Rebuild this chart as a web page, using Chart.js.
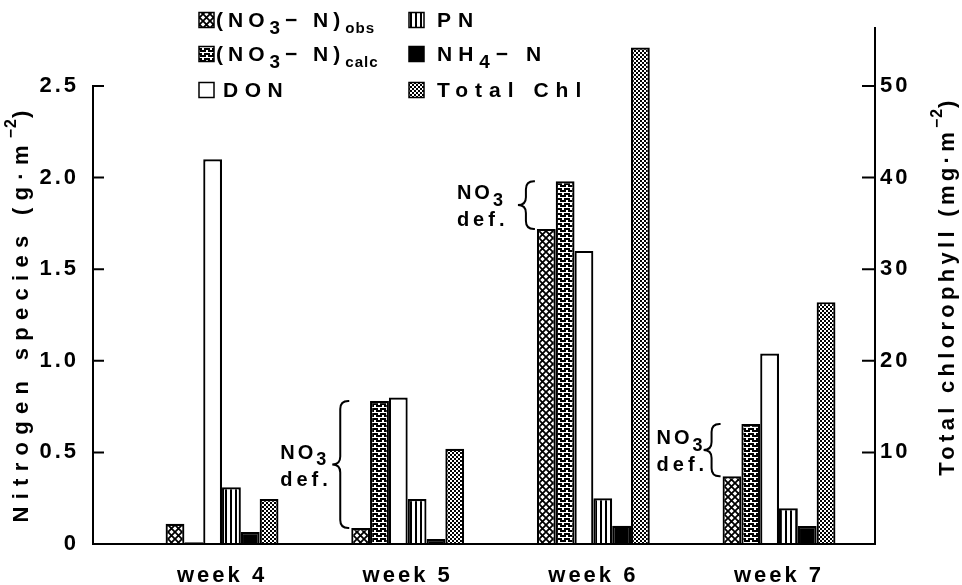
<!DOCTYPE html>
<html><head><meta charset="utf-8">
<script src="https://cdn.jsdelivr.net/npm/chart.js@4.4.0/dist/chart.umd.min.js"></script>
<style>html,body{margin:0;padding:0;background:#fff}#wrap{width:962px;height:585px}</style>
</head><body><div id="wrap"><canvas id="c" width="962" height="585"></canvas></div>
<script>
// ---------- data ----------
const weeks = ['week 4', 'week 5', 'week 6', 'week 7'];
const weekPos = [4, 5, 6, 7];
const no3Obs  = [0.11, 0.087, 1.72, 0.37];
const no3Calc = [0.01, 0.78, 1.98, 0.655];
const don     = [2.10, 0.80, 1.60, 1.04];
const pn      = [0.31, 0.245, 0.25, 0.195];
const nh4     = [0.065, 0.027, 0.10, 0.098];
const totalChl = [4.9, 10.4, 54.2, 26.4];
const leftTicks = [0, 0.5, 1, 1.5, 2, 2.5];
const leftTickLabels = ['0', '0.5', '1.0', '1.5', '2.0', '2.5'];
const rightTicks = [10, 20, 30, 40, 50];
const rightTickLabels = ['10', '20', '30', '40', '50'];
const deficitWeekIdx = [1, 2, 3];
// text segments: [text, mode] mode 0 normal, 1 big subscript, 2 small subscript, 3 superscript
const legendObs  = [['(NO', 0], ['3', 1], ['− N)', 0], ['obs', 2]];
const legendCalc = [['(NO', 0], ['3', 1], ['− N)', 0], ['calc', 2]];
const legendDon  = [['DON', 0]];
const legendPn   = [['PN', 0]];
const legendNh4  = [['NH', 0], ['4', 1], ['− N', 0]];
const legendChl  = [['Total Chl', 0]];
const leftTitle  = [['Nitrogen species (g·m', 0], ['−2', 3], [')', 0]];
const rightTitle = [['Total chlorophyll (mg·m', 0], ['−2', 3], [')', 0]];

// ---------- patterns ----------
const FONT = '"Liberation Sans", Arial, Helvetica, sans-serif';
function tile(w, h, draw) {
  const c = document.createElement('canvas'); c.width = w; c.height = h;
  const g = c.getContext('2d');
  g.fillStyle = '#fff'; g.fillRect(0, 0, w, h);
  g.fillStyle = '#000'; g.strokeStyle = '#000';
  draw(g, w, h); return c;
}
const canvas = document.getElementById('c');
const ctx = canvas.getContext('2d');
const pat = {
  obs: ctx.createPattern(tile(7, 7, (g, w, h) => {
    g.lineWidth = 1.8;
    g.beginPath(); g.moveTo(-1, -1); g.lineTo(w + 1, h + 1); g.moveTo(-1, h + 1); g.lineTo(w + 1, -1); g.stroke();
  }), 'repeat'),
  calc: ctx.createPattern(tile(8, 5, (g) => {
    g.fillRect(0, 0, 6, 2); g.fillRect(4, 3, 4, 2); g.fillRect(0, 3, 2, 2);
  }), 'repeat'),
  don: '#ffffff',
  pn: ctx.createPattern(tile(5, 1, (g) => { g.fillRect(0, 0, 2, 1); }), 'repeat'),
  nh4: '#000000',
  chl: ctx.createPattern(tile(4, 4, (g) => { g.fillRect(0, 0, 2, 2); g.fillRect(2, 2, 2, 2); }), 'repeat')
};

function pts(arr) { return weekPos.map((x, i) => ({ x: x, y: arr[i] })); }

// ---------- helpers ----------
function drawSegs(c, x, y, segs, size, sp, measureOnly) {
  let w = 0;
  for (const [t, m] of segs) {
    let fs = size, dy = 0, s = sp;
    if (m === 1) { fs = size * 0.9; dy = size * 0.33; }
    if (m === 2) { fs = size * 0.72; dy = size * 0.3; s = 1; }
    if (m === 3) { fs = size * 0.72; dy = -size * 0.45; s = 1; }
    c.font = 'bold ' + fs + 'px ' + FONT;
    c.letterSpacing = s + 'px';
    if (!measureOnly) c.fillText(t, x + w, y + dy);
    w += c.measureText(t).width;
  }
  return w;
}
function brace(c, xl, xr, yt, yb) {
  const xm = (xl + xr) / 2, ym = (yt + yb) / 2;
  const r = Math.min(8, (yb - yt) / 6);
  c.beginPath();
  c.moveTo(xr, yt);
  c.quadraticCurveTo(xm, yt, xm, yt + r);
  c.lineTo(xm, ym - r);
  c.quadraticCurveTo(xm, ym, xl, ym);
  c.quadraticCurveTo(xm, ym, xm, ym + r);
  c.lineTo(xm, yb - r);
  c.quadraticCurveTo(xm, yb, xr, yb);
  c.stroke();
}

const SPACING = '3px';
const deco = {
  id: 'deco',
  beforeUpdate(ch) { ch.ctx.letterSpacing = SPACING; },
  beforeLayout(ch) { ch.ctx.letterSpacing = SPACING; },
  beforeDraw(ch) { ch.ctx.letterSpacing = SPACING; },
  afterDraw(ch) {
    const c = ch.ctx, ya = ch.scales.y, yb = ch.scales.y1, ca = ch.chartArea;
    c.save();
    c.strokeStyle = '#000'; c.fillStyle = '#000'; c.lineWidth = 2; c.lineCap = 'square';
    // axes
    const y0 = ya.getPixelForValue(0);
    c.beginPath();
    c.moveTo(ca.left, ya.getPixelForValue(2.5)); c.lineTo(ca.left, y0); c.lineTo(ca.right, y0);
    c.lineTo(ca.right, ca.top);
    c.stroke();
    c.beginPath();
    for (const v of leftTicks) { if (v === 0) continue; const p = ya.getPixelForValue(v); c.moveTo(ca.left, p); c.lineTo(ca.left + 10, p); }
    for (const v of rightTicks) { const p = yb.getPixelForValue(v); c.moveTo(ca.right, p); c.lineTo(ca.right - 12, p); }
    c.stroke();
    // legend
    c.textBaseline = 'alphabetic'; c.textAlign = 'left';
    const items = [
      [pat.obs, 199, 20, 216, 27, legendObs, 5],
      [pat.calc, 199, 54, 216, 61, legendCalc, 5],
      [pat.don, 199, 90, 223, 97, legendDon, 6.5],
      [pat.pn, 409, 20, 437, 27, legendPn, 7],
      [pat.nh4, 409, 54, 437, 61, legendNh4, 6],
      [pat.chl, 409, 90, 437, 97, legendChl, 7]
    ];
    for (const [f, bx, by, tx, tyy, segs, sp] of items) {
      c.fillStyle = f; c.fillRect(bx, by - 7.5, 15, 15);
      c.lineWidth = 1.5; c.strokeRect(bx, by - 7.5, 15, 15);
      c.fillStyle = '#000';
      drawSegs(c, tx, tyy, segs, 21, sp);
    }
    // deficit annotations
    const gaps = [6, 15, 1];
    c.lineWidth = 2;
    deficitWeekIdx.forEach((i, k) => {
      const bar = ch.getDatasetMeta(0).data[i];
      const left = bar.x - bar.width / 2;
      const yt = ya.getPixelForValue(no3Calc[i]), ybt = ya.getPixelForValue(no3Obs[i]);
      const xr = left - 3, xl = xr - 16;
      brace(c, xl, xr, yt, ybt);
      const segs = [['NO', 0], ['3', 1]];
      const w = drawSegs(c, 0, 0, segs, 20, 3, true);
      const tx = xl - gaps[k] - w + 3, ym = (yt + ybt) / 2;
      drawSegs(c, tx, ym - 6, segs, 20, 3);
      drawSegs(c, tx, ym + 21, [['def.', 0]], 20, 4);
    });
    // axis titles
    const drawTitle = (segs, cx, cy, sp) => {
      c.save(); c.translate(cx, cy); c.rotate(-Math.PI / 2);
      c.textBaseline = 'middle';
      const w = drawSegs(c, 0, 0, segs, 22, sp, true);
      drawSegs(c, -w / 2, 0, segs, 22, sp);
      c.restore();
    };
    drawTitle(leftTitle, 22, 313, 7.3);
    drawTitle(rightTitle, 948, 286, 4.3);
    c.restore();
  }
};

const tickFont = { family: FONT, size: 22, weight: 'bold' };
new Chart(ctx, {
  type: 'bar',
  data: {
    datasets: [
      { label: '(NO3-N)obs', data: pts(no3Obs), backgroundColor: pat.obs, yAxisID: 'y' },
      { label: '(NO3-N)calc', data: pts(no3Calc), backgroundColor: pat.calc, yAxisID: 'y' },
      { label: 'DON', data: pts(don), backgroundColor: pat.don, yAxisID: 'y' },
      { label: 'PN', data: pts(pn), backgroundColor: pat.pn, yAxisID: 'y' },
      { label: 'NH4-N', data: pts(nh4), backgroundColor: pat.nh4, yAxisID: 'y' },
      { label: 'Total Chl', data: pts(totalChl), backgroundColor: pat.chl, yAxisID: 'y1' }
    ]
  },
  options: {
    responsive: false, animation: false, devicePixelRatio: 1,
    layout: { padding: { top: 28, left: 0, right: 0, bottom: 0 } },
    datasets: { bar: { borderColor: '#000', borderWidth: 2.2, categoryPercentage: 0.608, barPercentage: 1, borderSkipped: 'bottom' } },
    plugins: { legend: { display: false }, tooltip: { enabled: false } },
    scales: {
      x: {
        type: 'linear', min: 3.305, max: 7.517, offset: false,
        grid: { display: false, drawTicks: false, offset: false }, border: { display: false },
        afterBuildTicks: s => { s.ticks = weekPos.map(v => ({ value: v })); },
        ticks: { callback: v => weeks[weekPos.indexOf(v)] || '', font: { family: FONT, size: 22, weight: 'bold' }, color: '#000', padding: 19, maxRotation: 0, autoSkip: false },
        afterFit: s => { s.height = 41; }
      },
      y: {
        position: 'left', min: 0, max: 2.8166,
        grid: { display: false, drawTicks: false }, border: { display: false },
        afterBuildTicks: s => { s.ticks = leftTicks.map(v => ({ value: v })); },
        ticks: { callback: (v, i) => leftTickLabels[i], font: tickFont, color: '#000', padding: 14 },
        afterFit: s => { s.width = 93; }
      },
      y1: {
        position: 'right', min: 0, max: 56.33,
        grid: { display: false, drawTicks: false }, border: { display: false },
        afterBuildTicks: s => { s.ticks = rightTicks.map(v => ({ value: v })); },
        ticks: { callback: (v, i) => rightTickLabels[i], font: tickFont, color: '#000', padding: 5 },
        afterFit: s => { s.width = 87; }
      }
    }
  },
  plugins: [deco]
});
</script></body></html>
